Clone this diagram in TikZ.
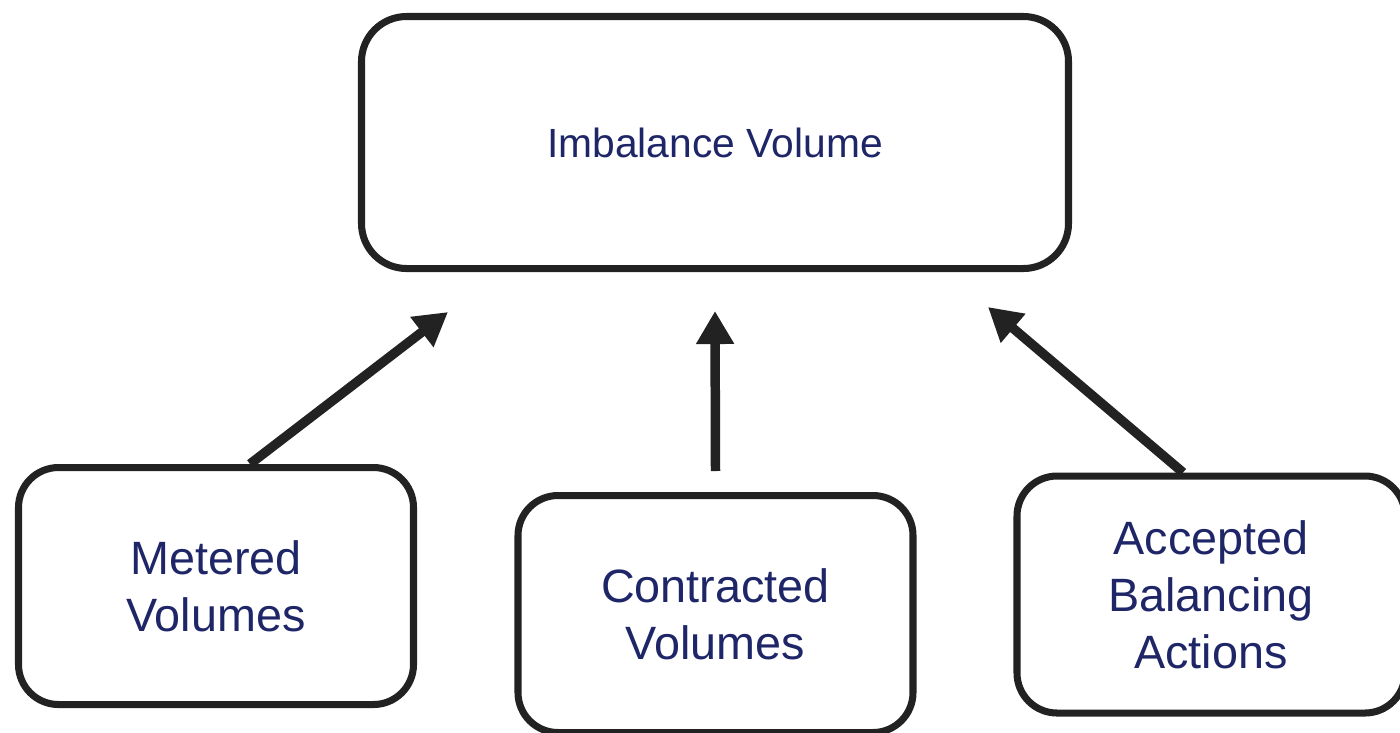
\documentclass[tikz,border=0pt]{standalone}
\usepackage{fontspec}
\setmainfont{Liberation Sans}
\usetikzlibrary{arrows.meta}

\definecolor{labelblue}{RGB}{30,38,104}
\definecolor{edgegray}{RGB}{34,34,34}

\begin{document}
\begin{tikzpicture}[
    every node/.style={text=labelblue, align=center},
    box/.style={draw=edgegray, line width=2pt, rounded corners=0.4cm, fill=white,
                minimum width=3.95cm, minimum height=2.37cm, inner sep=0pt,
                font=\fontsize{13.3}{16.2}\selectfont},
    flow/.style={draw=edgegray, line width=2.7pt,
                 -{Triangle[length=0.33cm,width=0.36cm]}}
  ]
    \useasboundingbox (0,0) rectangle (14,-7.32);

    % Result box
    \node[box, rounded corners=0.45cm, minimum width=7.07cm, minimum height=2.52cm,
          font=\fontsize{11.6}{14}\selectfont] (imb) at (7.15,-1.425) {Imbalance Volume};

    % Input boxes
    \node[box] (met) at (2.16,-5.86) {Metered\\Volumes};
    \node[box] (con) at (7.155,-6.14) {Contracted\\Volumes};
    \node[box, minimum width=3.88cm] (acc) at (12.11,-5.945) {Accepted\\Balancing\\Actions};

    % Arrow tips below the result box
    \coordinate (tipL) at ([xshift=-2.67cm,yshift=-0.4cm]imb.south);
    \coordinate (tipM) at ([yshift=-0.39cm]imb.south);
    \coordinate (tipR) at ([xshift=2.73cm,yshift=-0.35cm]imb.south);

    % Arrows
    \draw[flow] ([xshift=0.34cm]met.north) -- (tipL);
    \draw[flow] ([yshift=0.21cm]con.north) -- (tipM);
    \draw[flow] ([xshift=-0.28cm]acc.north) -- (tipR);
\end{tikzpicture}
\end{document}
